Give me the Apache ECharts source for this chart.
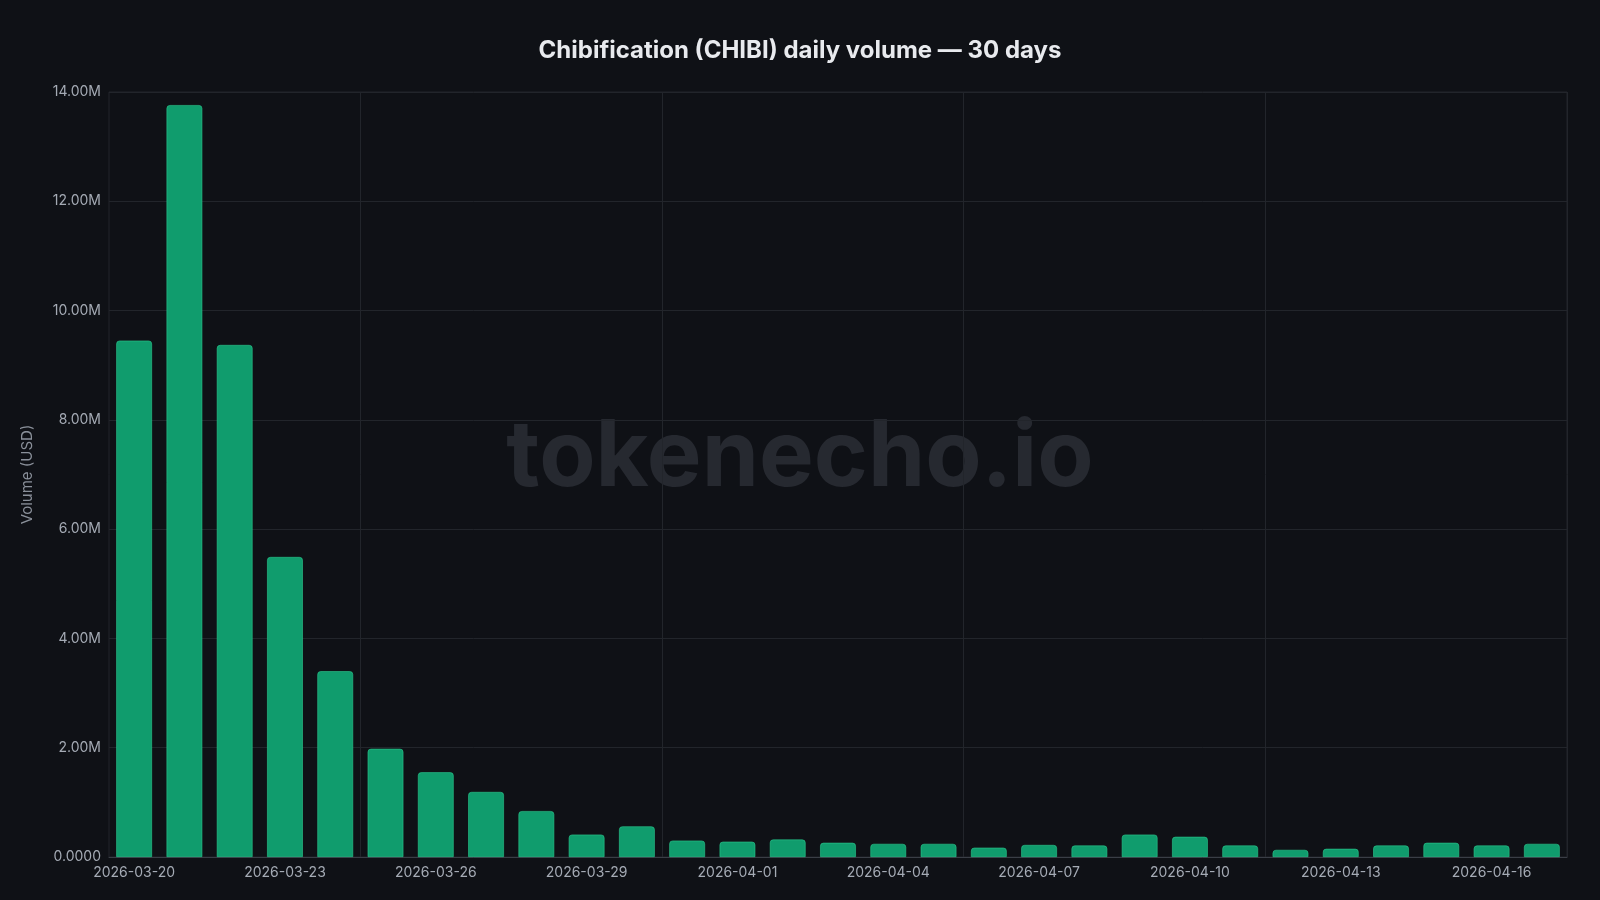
<!DOCTYPE html>
<html><head><meta charset="utf-8">
<script src="https://cdn.jsdelivr.net/npm/echarts@6/dist/echarts.min.js"></script>
<style>html,body{margin:0;background:#0f1116}#c{width:1600px;height:900px}</style>
</head><body><div id="c"></div>
<script>
const dates = ['2026-03-20','2026-03-21','2026-03-22','2026-03-23','2026-03-24','2026-03-25','2026-03-26','2026-03-27','2026-03-28','2026-03-29','2026-03-30','2026-03-31','2026-04-01','2026-04-02','2026-04-03','2026-04-04','2026-04-05','2026-04-06','2026-04-07','2026-04-08','2026-04-09','2026-04-10','2026-04-11','2026-04-12','2026-04-13','2026-04-14','2026-04-15','2026-04-16','2026-04-17'];
const volumes = [9.45e6,13.76e6,9.37e6,5.49e6,3.40e6,1.98e6,1.55e6,1.19e6,0.84e6,0.41e6,0.56e6,0.30e6,0.28e6,0.32e6,0.26e6,0.24e6,0.24e6,0.17e6,0.22e6,0.21e6,0.41e6,0.37e6,0.21e6,0.13e6,0.15e6,0.21e6,0.26e6,0.21e6,0.24e6];
const chart = echarts.init(document.getElementById('c'));
chart.setOption({
  backgroundColor:'#0f1116',
  title:{text:'Chibification (CHIBI) daily volume — 30 days',left:'center',top:34,
    textStyle:{color:'#e8eaee',fontSize:24,fontWeight:'bold',fontFamily:'Inter'}},
  graphic:[{type:'text',left:'center',top:412,z:0,style:{text:'tokenecho.io',fill:'#262930',font:'bold 92px Inter'}}],
  grid:{left:109,right:33,top:92,bottom:43,show:true,borderColor:'#22252b',borderWidth:1},
  xAxis:{type:'category',data:dates,
    axisLine:{lineStyle:{color:'#3a3e46'}},axisTick:{show:false},
    axisLabel:{interval:2,color:'#a5abb5',fontSize:14,fontFamily:'Inter',margin:9},
    splitLine:{show:true,interval:(i)=>i%6===5,lineStyle:{color:'#22252b'}}},
  yAxis:{type:'value',min:0,max:14e6,interval:2e6,name:'Volume (USD)',nameLocation:'middle',nameGap:74,
    nameTextStyle:{color:'#8a909a',fontSize:15,fontFamily:'Inter'},
    axisLabel:{color:'#a5abb5',fontSize:14,fontFamily:'Inter',formatter:v=>v===0?'0.0000':(v/1e6).toFixed(2)+'M'},
    splitLine:{lineStyle:{color:'#22252b'}}},
  series:[{type:'bar',data:volumes,barWidth:'71%',z:2,
    itemStyle:{color:'#109c6d',borderColor:'#2cc98e',borderWidth:0.6,borderRadius:[3,3,0,0]}}]
});
</script></body></html>
